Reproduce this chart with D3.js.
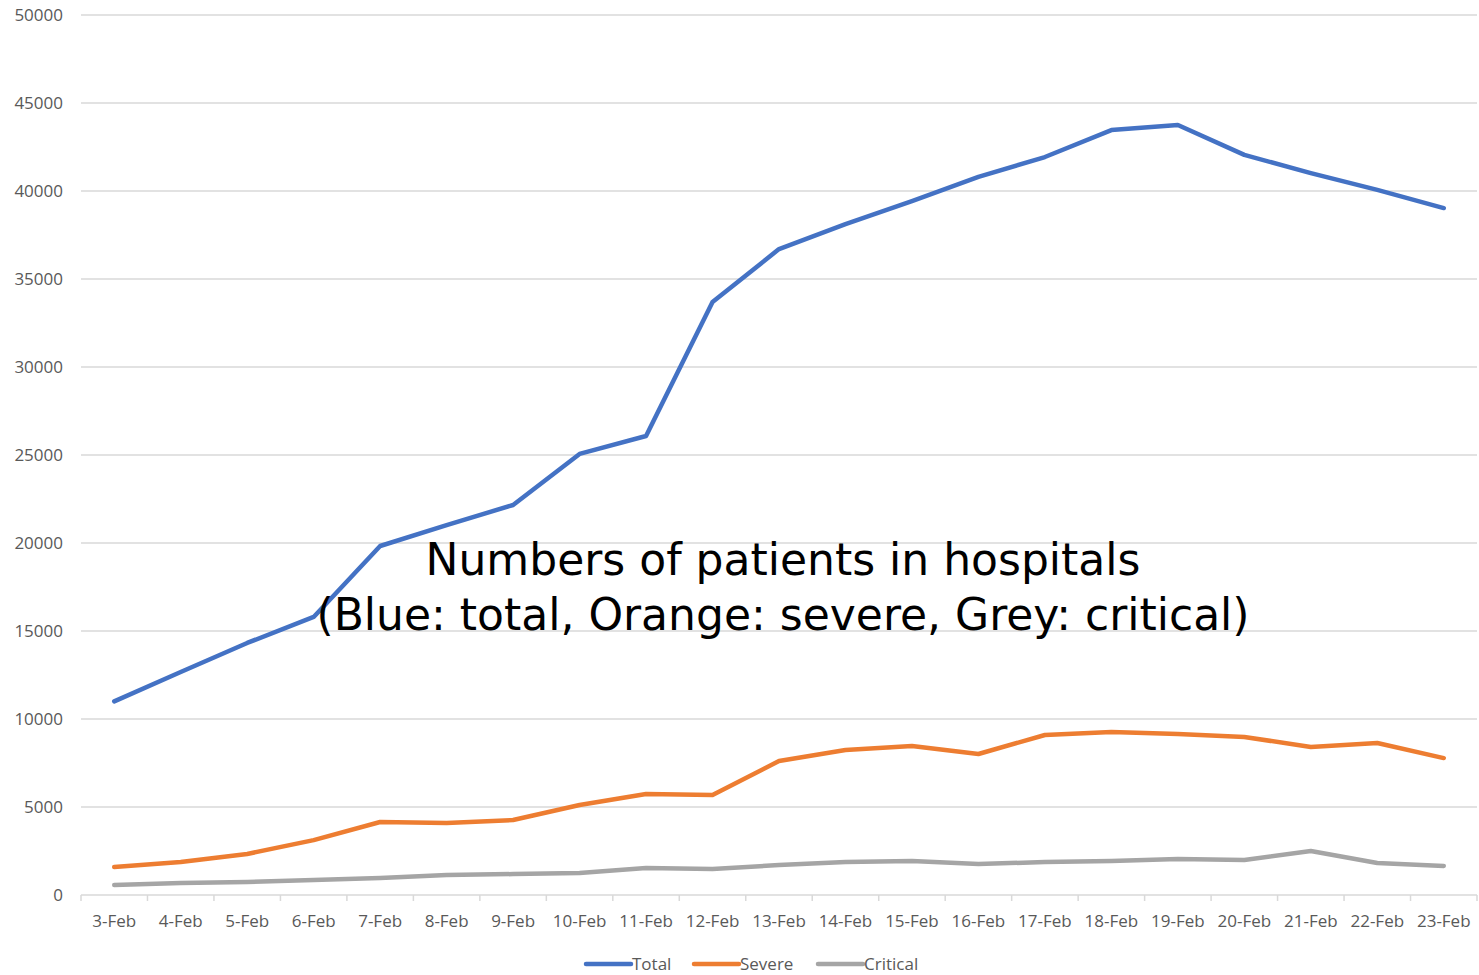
<html>
<head>
  <script src="https://d3js.org/d3.v7.min.js"></script>
  <style>
    body { margin: 0; background: #fff; }
    text { font-family: "Open Sans", "Noto Sans", sans-serif; }
  </style>
</head>
<body>
<script>
// dates (category axis)
var fechas = ['3-Feb','4-Feb','5-Feb','6-Feb','7-Feb','8-Feb','9-Feb','10-Feb','11-Feb','12-Feb',
  '13-Feb','14-Feb','15-Feb','16-Feb','17-Feb','18-Feb','19-Feb','20-Feb','21-Feb','22-Feb','23-Feb'];

// series
var total = [11000,12670,14320,15800,19830,21020,22160,25060,26080,33690,36700,38120,39430,40800,41930,43460,43750,42050,41020,40060,39030];
var severe = [1590,1870,2330,3120,4150,4090,4260,5110,5740,5680,7610,8240,8460,8010,9090,9260,9150,8980,8410,8640,7780];
var critical = [570,680,740,850,960,1130,1190,1250,1530,1480,1700,1870,1930,1760,1870,1930,2040,1990,2500,1820,1650];

var yTicks = [0,5000,10000,15000,20000,25000,30000,35000,40000,45000,50000];

var series = [
  {name:'Total', valores: total, color:'#4472c4'},
  {name:'Severe', valores: severe, color:'#ed7d31'},
  {name:'Critical', valores: critical, color:'#a5a5a5'}
];

var W = 1479, H = 975;
var izq = 81, der = 1477, arriba = 15, abajo = 895;

var svg = d3.select('body').append('svg')
  .attr('width', W)
  .attr('height', H);

var x = d3.scaleBand()
  .domain(fechas)
  .range([izq, der]);

var y = d3.scaleLinear()
  .domain([0, 50000])
  .range([abajo, arriba]);

// gridlines
svg.append('g')
  .selectAll('line')
  .data(yTicks.slice(1))
  .enter()
  .append('line')
  .attr('x1', izq).attr('x2', der)
  .attr('y1', d => y(d)).attr('y2', d => y(d))
  .attr('stroke', '#d9d9d9')
  .attr('stroke-width', 1.5);

// y axis labels
var ejeY = svg.append('g')
  .attr('transform', 'translate(63,0)')
  .call(d3.axisLeft(y).tickValues(yTicks).tickSize(0).tickPadding(0).tickFormat(d3.format('d')));
ejeY.select('.domain').remove();
ejeY.selectAll('text')
  .attr('fill', '#595959')
  .style('font-size', '17px')
  .style('font-family', '"Open Sans", sans-serif');

// x axis
var ejeX = svg.append('g')
  .attr('transform', 'translate(0,' + abajo + ')');
ejeX.append('line')
  .attr('x1', izq).attr('x2', der)
  .attr('stroke', '#d9d9d9').attr('stroke-width', 1.5);
ejeX.selectAll('line.tk')
  .data(fechas.concat(['fin']))
  .enter()
  .append('line')
  .attr('class', 'tk')
  .attr('x1', (d, i) => izq + i * x.bandwidth())
  .attr('x2', (d, i) => izq + i * x.bandwidth())
  .attr('y1', 0).attr('y2', 6)
  .attr('stroke', '#d9d9d9').attr('stroke-width', 1.5);
ejeX.selectAll('text')
  .data(fechas)
  .enter()
  .append('text')
  .attr('x', d => x(d) + x.bandwidth() / 2)
  .attr('y', 32)
  .attr('text-anchor', 'middle')
  .attr('fill', '#595959')
  .style('font-size', '17px')
  .text(d => d);

// lines
var linea = d3.line()
  .x((d, i) => x(fechas[i]) + x.bandwidth() / 2)
  .y(d => y(d));

svg.selectAll('path.serie')
  .data(series)
  .enter()
  .append('path')
  .attr('class', 'serie')
  .attr('d', d => linea(d.valores))
  .attr('fill', 'none')
  .attr('stroke', d => d.color)
  .attr('stroke-width', 4.5)
  .attr('stroke-linejoin', 'round')
  .attr('stroke-linecap', 'round');

// title in the middle of the plot
var titulo = svg.append('text')
  .attr('x', 783)
  .attr('text-anchor', 'middle')
  .attr('fill', '#000')
  .style('font-family', '"DejaVu Sans", sans-serif')
  .style('font-size', '44px');
titulo.append('tspan').attr('x', 783).attr('y', 575).text('Numbers of patients in hospitals');
titulo.append('tspan').attr('x', 783).attr('y', 630).text('(Blue: total, Orange: severe, Grey: critical)');

// legend
var leyX = [586, 694, 818];
var ley = svg.selectAll('g.ley')
  .data(series)
  .enter()
  .append('g')
  .attr('class', 'ley')
  .attr('transform', (d, i) => 'translate(' + leyX[i] + ',964)');
ley.append('line')
  .attr('x1', 0).attr('x2', 45)
  .attr('stroke', d => d.color)
  .attr('stroke-width', 4.5)
  .attr('stroke-linecap', 'round');
ley.append('text')
  .attr('x', 46)
  .attr('y', 6)
  .attr('fill', '#595959')
  .style('font-size', '17px')
  .text(d => d.name);
</script>
</body>
</html>
